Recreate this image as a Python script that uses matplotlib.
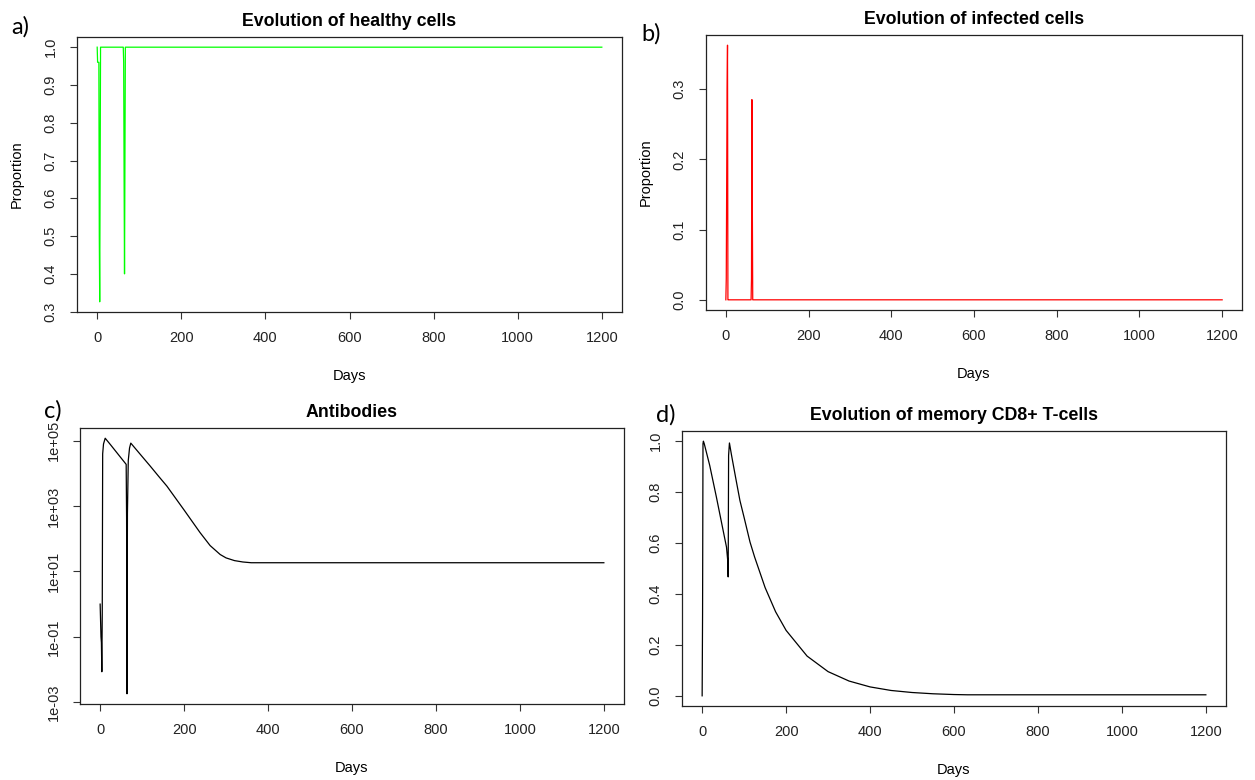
import numpy as np
import matplotlib.pyplot as plt

# values
healthy_days = [0, 1, 4, 5, 6, 8, 62, 63, 64, 65, 67, 1200]
healthy_vals = [1.0, 0.96, 0.96, 0.50, 0.326, 1.0, 1.0, 0.96, 0.65, 0.40, 1.0, 1.0]

infected_days = [0, 1, 3, 4, 5, 6, 61, 62, 63, 64, 65, 1200]
infected_vals = [0.0, 0.03, 0.30, 0.3625, 0.0, 0.0, 0.0, 0.03, 0.285, 0.14, 0.0, 0.0]

antibody_days = [0, 2, 3, 4, 5, 6, 8, 12, 25, 40, 62, 63, 64, 65, 67, 70, 73,
                 100, 119, 140, 159, 200, 238, 262, 286, 300, 320, 340, 360, 1200]
antibody_vals = [1.0, 0.1, 0.066, 0.0085, 0.5, 4e4, 8e4, 1.2e5, 7.5e4, 4.3e4, 1.9e4,
                 430, 0.0018, 600, 2.5e4, 6e4, 8.5e4, 3.3e4, 1.7e4, 8e3, 4.1e3, 760,
                 155, 62, 33, 26, 21.5, 19.5, 18.5, 18.5]

cd8_days = [0, 1, 2, 3, 5, 18, 34, 58, 61, 62, 63, 65, 70, 80, 90, 100, 114, 125,
            150, 175, 200, 250, 300, 350, 400, 450, 500, 550, 600, 632, 1200]
cd8_vals = [0.0, 0.32, 0.99, 1.0, 0.99, 0.905, 0.78, 0.584, 0.53, 0.467, 0.944, 0.993,
            0.945, 0.855, 0.767, 0.70, 0.604, 0.545, 0.425, 0.33, 0.257, 0.156, 0.095,
            0.058, 0.035, 0.021, 0.013, 0.008, 0.005, 0.004, 0.004]

day_ticks = [0, 200, 400, 600, 800, 1000, 1200]

plt.rcParams['font.family'] = ['Liberation Sans', 'DejaVu Sans']

W, H = 1255, 780
fig = plt.figure(figsize=(W / 100, H / 100), dpi=100)


def box(l, t, r, b):
    return fig.add_axes([l / W, 1 - b / H, (r - l) / W, (b - t) / H])


def r_style(ax, title, ylabel=None):
    ax.set_title(title, fontsize=12.8, fontweight='bold', pad=8)
    ax.set_xlabel("Days", fontsize=10.5, labelpad=17)
    if ylabel:
        ax.set_ylabel(ylabel, fontsize=10.5, labelpad=14)
    ax.set_xticks(day_ticks)
    ax.tick_params(direction='out', length=5, width=0.8, pad=9, labelsize=10.5,
                   color='#333333', labelcolor='#222222')
    for lab in ax.get_yticklabels():
        lab.set_rotation(90)
        lab.set_va('center')
    for s in ax.spines.values():
        s.set_linewidth(0.9)
        s.set_color('#222222')
    ax.margins(x=0.04, y=0.04)


ax1 = box(77, 37, 622, 312)
ax1.plot(healthy_days, healthy_vals, color='#00ff00', lw=0.9)
ax1.set_yticks([0.3, 0.4, 0.5, 0.6, 0.7, 0.8, 0.9, 1.0])
r_style(ax1, "Evolution of healthy cells", "Proportion")

ax2 = box(706, 35, 1242, 310)
ax2.plot(infected_days, infected_vals, color='#ff0000', lw=0.9)
ax2.set_yticks([0.0, 0.1, 0.2, 0.3])
r_style(ax2, "Evolution of infected cells", "Proportion")

ax3 = box(80, 428, 624, 704)
ax3.plot(antibody_days, antibody_vals, color='black', lw=0.9)
ax3.set_yscale('log')
ax3.set_yticks([1e-3, 1e-1, 1e1, 1e3, 1e5])
ax3.set_yticklabels(["1e-03", "1e-01", "1e+01", "1e+03", "1e+05"])
ax3.minorticks_off()
r_style(ax3, "Antibodies")

ax4 = box(682, 431, 1226, 706)
ax4.plot(cd8_days, cd8_vals, color='black', lw=0.9)
ax4.set_yticks([0.0, 0.2, 0.4, 0.6, 0.8, 1.0])
r_style(ax4, "Evolution of memory CD8+ T-cells")

for ax in (ax1, ax2, ax4):
    ax.yaxis.set_major_formatter(plt.FormatStrFormatter('%.1f'))

for lab, x, y in [("a)", 20, 27), ("b)", 651, 34), ("c)", 53, 411), ("d)", 666, 415)]:
    fig.text(x / W, 1 - y / H, lab, fontsize=17, family=['Lato', 'DejaVu Sans'],
             ha='center', va='center')

fig.savefig("out.png", dpi=100)
